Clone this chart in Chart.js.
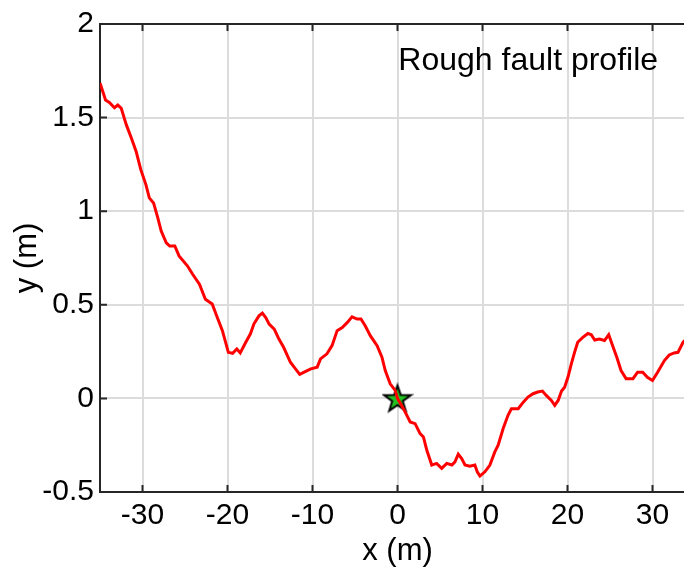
<!DOCTYPE html>
<html>
<head>
<meta charset="utf-8">
<script src="https://cdn.jsdelivr.net/npm/chart.js@4/dist/chart.umd.min.js"></script>
<style>
  html, body { margin: 0; padding: 0; background: #fff; overflow: hidden; }
  #wrap { width: 684px; height: 567px; overflow: hidden; }
</style>
</head>
<body>
<div id="wrap"><canvas id="fault" width="710" height="567"></canvas></div>
<script>
// profile (x in m, y in m)
const profileX = [-35, -34.35, -33.9, -33.3, -32.9, -32.5, -31.9, -31.3, -30.75, -30.2,
    -29.6, -29.2, -28.7, -28.2, -27.8, -27.2, -26.8, -26.2, -25.7, -24.7,
    -24.1, -23.3, -22.6, -21.8, -21.2, -20.6, -19.9, -19.4, -18.9, -18.5,
    -17.85, -17.3, -16.9, -16.3, -15.9, -15.5, -15.1, -14.5, -13.95, -13.4,
    -12.6, -12.0, -11.5, -10.8, -10.2, -9.45, -9.06, -8.3, -7.7, -7.1,
    -6.5, -5.9, -5.35, -4.75, -4.3, -3.8, -3.2, -2.4, -1.83, -1.44,
    -0.86, -0.27, 0, 0.7, 1.49, 2.07, 2.66, 3.05, 3.45, 4.03,
    4.6, 5.2, 5.8, 6.4, 6.76, 7.15, 7.55, 7.94, 8.5, 9.1,
    9.38, 9.7, 10.28, 10.87, 11.45, 11.84, 12.43, 13.0, 13.4, 14.2,
    14.8, 15.35, 15.95, 16.5, 17.05, 17.5, 18.1, 18.5, 18.9, 19.3,
    19.66, 20.05, 20.45, 20.83, 21.2, 21.8, 22.4, 22.8, 23.2, 23.76,
    24.35, 24.85, 25.3, 25.8, 26.3, 26.9, 27.7, 28.25, 28.85, 29.4,
    30.0, 30.6, 31.4, 31.97, 32.55, 33.0, 33.3, 33.6, 34.3, 35];
const profileY = [1.685, 1.594, 1.581, 1.553, 1.567, 1.550, 1.461, 1.39, 1.319, 1.222,
    1.142, 1.071, 1.044, 0.964, 0.894, 0.831, 0.814, 0.814, 0.761, 0.707,
    0.663, 0.610, 0.530, 0.504, 0.432, 0.362, 0.246, 0.241, 0.264, 0.243,
    0.30, 0.345, 0.397, 0.441, 0.456, 0.432, 0.397, 0.37, 0.317, 0.273,
    0.193, 0.158, 0.128, 0.144, 0.158, 0.167, 0.211, 0.238, 0.282, 0.362,
    0.379, 0.406, 0.436, 0.424, 0.424, 0.388, 0.335, 0.282, 0.22, 0.149,
    0.078, 0.043, 0, -0.055, -0.126, -0.135, -0.188, -0.206, -0.277, -0.356,
    -0.347, -0.374, -0.347, -0.356, -0.339, -0.298, -0.321, -0.356, -0.362, -0.356,
    -0.392, -0.415, -0.392, -0.356, -0.286, -0.25, -0.161, -0.09, -0.055, -0.055,
    -0.02, 0.007, 0.025, 0.034, 0.039, 0.016, -0.011, -0.037, -0.011, 0.039,
    0.06, 0.113, 0.185, 0.246, 0.30, 0.326, 0.347, 0.34, 0.312, 0.317,
    0.309, 0.34, 0.282, 0.22, 0.149, 0.105, 0.105, 0.14, 0.14, 0.113,
    0.096, 0.14, 0.202, 0.232, 0.243, 0.246, 0.273, 0.30, 0.33, 0.35];

const hypoX = [0];
const hypoY = [0];

const xTicks = [-30, -20, -10, 0, 10, 20, 30];
const yTicks = [-0.5, 0, 0.5, 1, 1.5, 2];
const labelText = 'Rough fault profile';
const labelPos = [0.1, 1.8];

const FONT = 'Liberation Sans, Arial, Helvetica, sans-serif';
const AXIS = '#262626';

// filled green star for the marker
function makeStar(r) {
    const c = document.createElement('canvas');
    const s = Math.ceil(r * 2 + 4);
    c.width = s; c.height = s;
    const g = c.getContext('2d');
    g.beginPath();
    for (let i = 0; i < 10; i++) {
        const rad = i % 2 === 0 ? r : r * 0.4;
        const a = -Math.PI / 2 + i * Math.PI / 5;
        const px = s / 2 + rad * Math.cos(a), py = s / 2 + 1 + rad * Math.sin(a);
        if (i === 0) g.moveTo(px, py); else g.lineTo(px, py);
    }
    g.closePath();
    g.fillStyle = '#22c022';
    g.fill();
    g.lineWidth = 2;
    g.strokeStyle = '#000';
    g.stroke();
    return c;
}

// top border, inward ticks and the text label
const boxPlugin = {
    id: 'box',
    afterDraw(chart) {
        const {ctx, chartArea: a, scales: {x, y}} = chart;
        ctx.save();
        ctx.strokeStyle = AXIS;
        ctx.lineWidth = 2;
        ctx.beginPath();
        ctx.moveTo(a.left - 1, a.top);
        ctx.lineTo(a.right, a.top);
        const len = 7;
        xTicks.forEach(v => {
            const px = x.getPixelForValue(v);
            ctx.moveTo(px, a.bottom); ctx.lineTo(px, a.bottom - len);
            ctx.moveTo(px, a.top); ctx.lineTo(px, a.top + len);
        });
        yTicks.forEach(v => {
            const py = y.getPixelForValue(v);
            ctx.moveTo(a.left, py); ctx.lineTo(a.left + len, py);
        });
        ctx.stroke();

        ctx.fillStyle = '#000';
        ctx.font = '32px ' + FONT;
        ctx.textAlign = 'left';
        ctx.textBaseline = 'middle';
        ctx.fillText(labelText, x.getPixelForValue(labelPos[0]), y.getPixelForValue(labelPos[1]));
        ctx.restore();
    }
};

new Chart(document.getElementById('fault'), {
    type: 'scatter',
    data: {
        datasets: [{
            data: profileX.map((v, i) => ({x: v, y: profileY[i]})),
            showLine: true,
            borderColor: '#ff0000',
            borderWidth: 3,
            pointRadius: 0,
            tension: 0
        }, {
            data: hypoX.map((v, i) => ({x: v, y: hypoY[i]})),
            pointStyle: makeStar(14),
            pointRadius: 14
        }]
    },
    options: {
        responsive: false,
        animation: false,
        events: [],
        layout: {padding: {top: 22, right: 14, left: 0, bottom: 0}},
        plugins: {legend: {display: false}, tooltip: {enabled: false}},
        scales: {
            x: {
                type: 'linear',
                min: -35,
                max: 35,
                afterBuildTicks: s => { s.ticks = xTicks.map(v => ({value: v})); },
                afterFit: s => { s.height = 75; },
                grid: {color: '#dcdcdc', lineWidth: 2, drawTicks: false},
                border: {color: AXIS, width: 2},
                ticks: {color: '#000', font: {family: FONT, size: 30}, padding: 6, maxRotation: 0,
                    callback: v => String(v)},
                title: {display: true, text: 'x (m)', color: '#000',
                    font: {family: FONT, size: 31, lineHeight: 1}, padding: 0}
            },
            y: {
                type: 'linear',
                min: -0.5,
                max: 2,
                afterBuildTicks: s => { s.ticks = yTicks.map(v => ({value: v})); },
                afterFit: s => { s.width = 100; },
                grid: {color: '#dcdcdc', lineWidth: 2, drawTicks: false},
                border: {color: AXIS, width: 2},
                ticks: {color: '#000', font: {family: FONT, size: 30}, padding: 6,
                    callback: v => String(v)},
                title: {display: true, text: 'y (m)', color: '#000',
                    font: {family: FONT, size: 31, lineHeight: 1}, padding: 12}
            }
        }
    },
    plugins: [boxPlugin]
});
</script>
</body>
</html>
